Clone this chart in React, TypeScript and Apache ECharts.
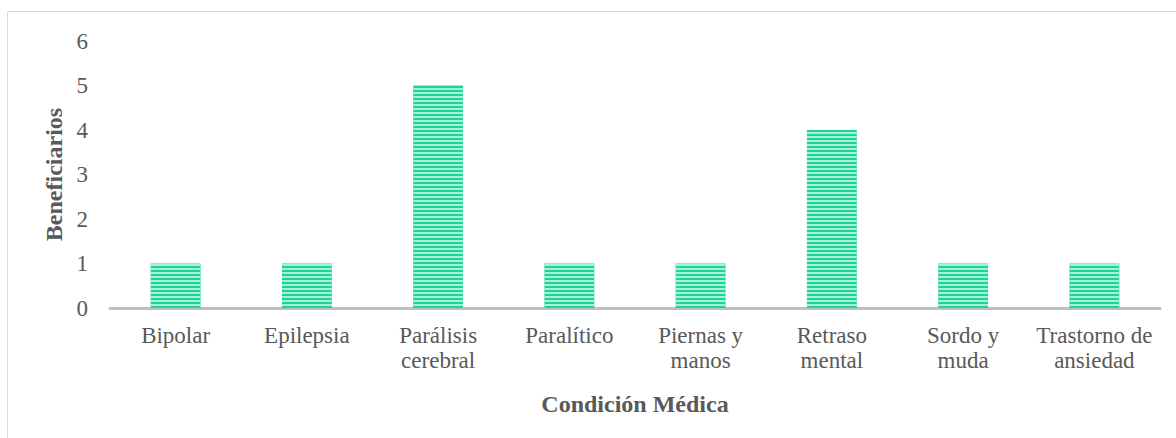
import React, { useEffect, useRef } from "react";
import * as echarts from "echarts";

const categories = [
  "Bipolar",
  "Epilepsia",
  "Parálisis\ncerebral",
  "Paralítico",
  "Piernas y\nmanos",
  "Retraso\nmental",
  "Sordo y\nmuda",
  "Trastorno de\nansiedad",
];
const beneficiarios = [1, 1, 5, 1, 1, 4, 1, 1];
const yTicks = { min: 0, max: 6, interval: 1 };
const xAxisTitle = "Condición Médica";
const yAxisTitle = "Beneficiarios";

export default function App() {
  const ref = useRef<HTMLDivElement>(null);
  useEffect(() => {
    if (!ref.current) return;
    const chart = echarts.init(ref.current, undefined, { renderer: "svg" });
    const font = "'Liberation Serif', 'Times New Roman', serif";
    chart.setOption({
      animation: false,
      backgroundColor: "#ffffff",
      textStyle: { fontFamily: font },
      grid: { left: 110, right: 16, top: 41, bottom: 130, containLabel: false },
      graphic: [
        {
          type: "rect",
          shape: { x: 7.5, y: 11.5, width: 1200, height: 500 },
          style: { fill: "none", stroke: "#d9d9d9", lineWidth: 1 },
          silent: true,
        },
      ],
      xAxis: {
        type: "category",
        data: categories,
        name: xAxisTitle,
        nameLocation: "middle",
        nameGap: 84,
        nameTextStyle: { fontFamily: font, fontSize: 24, fontWeight: "bold", color: "#595959" },
        axisLine: { show: true, lineStyle: { color: "#bfbfbf", width: 3 } },
        axisTick: { show: false },
        axisLabel: {
          fontFamily: font,
          fontSize: 23,
          color: "#595959",
          lineHeight: 25,
          margin: 15,
          interval: 0,
        },
      },
      yAxis: {
        type: "value",
        min: yTicks.min,
        max: yTicks.max,
        interval: yTicks.interval,
        name: yAxisTitle,
        nameLocation: "middle",
        nameGap: 42,
        nameRotate: 90,
        nameTextStyle: { fontFamily: font, fontSize: 24, fontWeight: "bold", color: "#595959" },
        axisLine: { show: false },
        axisTick: { show: false },
        splitLine: { show: false },
        axisLabel: { fontFamily: font, fontSize: 23, color: "#595959", margin: 22 },
      },
      series: [
        {
          type: "bar",
          data: beneficiarios,
          barWidth: "38%",
          itemStyle: {
            color: "#1fd398",
            decal: {
              symbol: "rect",
              color: "#a4f3d6",
              dashArrayX: [1, 0],
              dashArrayY: [2, 2],
              symbolSize: 1,
              rotation: 0,
            },
          },
        },
      ],
    });
    return () => chart.dispose();
  }, []);
  return (
    <div
      ref={ref}
      style={{ position: "absolute", left: 0, top: 0, width: 1176, height: 438 }}
    />
  );
}
